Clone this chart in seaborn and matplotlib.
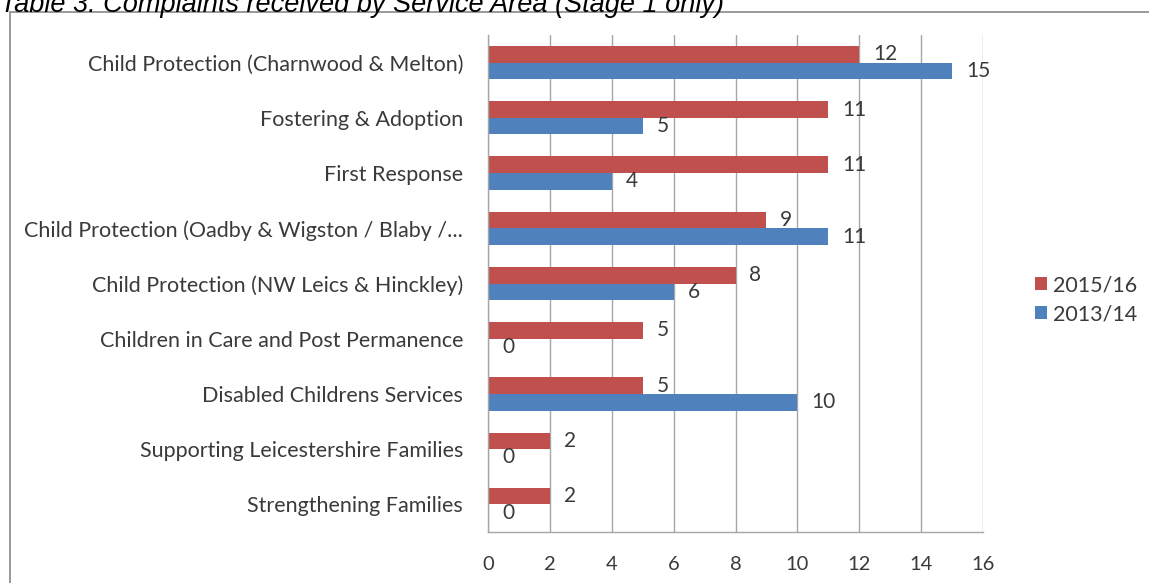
import matplotlib
matplotlib.use("Agg")
import matplotlib.pyplot as plt
import seaborn as sns
import pandas as pd
from matplotlib.patches import Rectangle

categories = [
    "Child Protection (Charnwood & Melton)",
    "Fostering & Adoption",
    "First Response",
    "Child Protection (Oadby & Wigston / Blaby /...",
    "Child Protection (NW Leics & Hinckley)",
    "Children in Care and Post Permanence",
    "Disabled Childrens Services",
    "Supporting Leicestershire Families",
    "Strengthening Families",
]
series_names = ["2015/16", "2013/14"]
values_2015 = [12, 11, 11, 9, 8, 5, 5, 2, 2]
values_2013 = [15, 5, 4, 11, 6, 0, 10, 0, 0]
x_ticks = [0, 2, 4, 6, 8, 10, 12, 14, 16]
title = "Table 3: Complaints received by Service Area (Stage 1 only)"

df = pd.DataFrame({
    "Service": categories * 2,
    "Year": [series_names[0]] * len(categories) + [series_names[1]] * len(categories),
    "Count": values_2015 + values_2013,
})

sns.set_theme(style="white")
plt.rcParams["font.family"] = ["Lato", "DejaVu Sans"]

TXT = "#3a3a3a"
GRID = "#a6a6a6"
W, H = 1149, 583
L, R, T, B = 488, 983, 35, 532

fig = plt.figure(figsize=(W / 100, H / 100), dpi=100)
ax = fig.add_axes([L / W, 1 - B / H, (R - L) / W, (B - T) / H])

palette = {"2015/16": "#C0504D", "2013/14": "#4F81BD"}
sns.barplot(data=df, y="Service", x="Count", hue="Year", hue_order=series_names,
            order=categories, palette=palette, width=0.6, orient="h",
            saturation=1, ax=ax, legend=True, edgecolor="none")

for cont in ax.containers:
    ax.bar_label(cont, padding=10, fontsize=15, color=TXT)

ax.set_xlim(0, 16)
ax.set_xticks(x_ticks)
ax.set_xticklabels([str(t) for t in x_ticks], fontsize=14.5, color=TXT)
ax.set_ylim(len(categories) - 0.5, -0.5)
ax.set_xlabel("")
ax.set_ylabel("")
ax.tick_params(axis="y", labelsize=15.5, labelcolor=TXT, length=0, pad=18)
ax.tick_params(axis="x", length=5, color=GRID, direction="out", pad=12)
ax.xaxis.grid(True, color=GRID, linewidth=1)
ax.set_axisbelow(True)
for s in ["top", "right"]:
    ax.spines[s].set_visible(False)
for s in ["left", "bottom"]:
    ax.spines[s].set_color(GRID)
    ax.spines[s].set_linewidth(1)

# category-boundary ticks on y axis
ax.set_yticks([i - 0.5 for i in range(len(categories) + 1)], minor=True)
ax.tick_params(axis="y", which="minor", length=5, color=GRID, direction="out")

leg = ax.legend(loc="center left", bbox_to_anchor=(1.105, 0.467), frameon=False,
                fontsize=15.5, handlelength=0.55, handleheight=0.55, handletextpad=0.3,
                labelspacing=0.4, borderaxespad=0, borderpad=0)
for t in leg.get_texts():
    t.set_color(TXT)

fig.patches.append(Rectangle((10 / W, -0.01), 1.2, 1 - 12 / H + 0.01,
                             transform=fig.transFigure, fill=False,
                             edgecolor="#888888", linewidth=1.2))
fig.text(0.0, 1 - 12 / H, title, fontsize=19.5, style="italic",
         family="Liberation Sans", va="baseline", ha="left", color="black")

fig.savefig("out.png", dpi=100)
